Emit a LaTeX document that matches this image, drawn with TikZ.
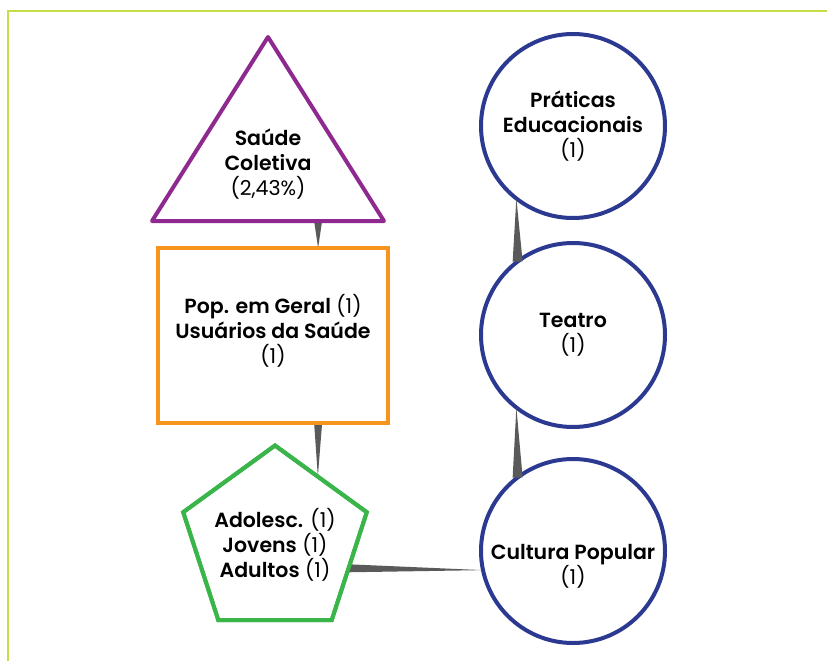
\documentclass[tikz,border=0pt]{standalone}
\usepackage{fontspec}
\setmainfont{Poppins}[BoldFont={Poppins SemiBold}]
\usetikzlibrary{shapes.geometric,calc}

\definecolor{framec}{HTML}{C6DD4A}
\definecolor{purplec}{HTML}{8E2A8F}
\definecolor{orangec}{HTML}{F7941D}
\definecolor{greenc}{HTML}{3AB54A}
\definecolor{navyc}{HTML}{2B3990}
\definecolor{linkc}{HTML}{5A5A5A}

% tapered connector: wide at #1, pointed at #2, half width #3
\newcommand\taper[3]{%
  \fill[linkc] ($(#1)!#3!90:(#2)$) -- ($(#1)!#3!-90:(#2)$) -- (#2) -- cycle;}

\begin{document}
\begin{tikzpicture}[x=1pt,y=-1pt,
  outline/.style={line width=4pt, inner sep=0pt, outer sep=0pt},
  lbl/.style={align=center, inner sep=0pt, font=\fontsize{20.5}{25}\selectfont},
  bubble/.style={outline, draw=navyc, circle, minimum size=184pt},
  boxstyle/.style={outline, draw=orangec, rectangle, minimum width=230pt, minimum height=175pt},
  pentstyle/.style={outline, draw=greenc, regular polygon, regular polygon sides=5, minimum size=193pt}]
\useasboundingbox (0,0) rectangle (827,661);

% frame
\draw[framec, line width=2.5pt] (827,11) -- (8,11) -- (8,661);

% shapes
\coordinate (tri-top) at (268,37);
\coordinate (tri-r) at (384,221);
\coordinate (tri-l) at (152,221);
\node[boxstyle] (pop) at (273,335.5) {};
\node[pentstyle] (ages) at (275,542) {};
\node[bubble] (prat) at (573,126) {};
\node[bubble] (teatro) at (573,335) {};
\node[bubble] (cultura) at (573,551) {};

% connector end points
\coordinate (tri-foot) at ($(tri-l)!0.716!(tri-r)$);
\coordinate (pop-top) at (tri-foot |- pop.north);
\coordinate (pop-foot) at (tri-foot |- pop.south);
\coordinate (ages-top) at ($(ages.corner 1)!0.467!(ages.corner 5)$);
\coordinate (ages-side) at ($(ages.corner 5)!0.52!(ages.corner 4)$);

\taper{tri-foot}{pop-top}{4pt}
\taper{pop-foot}{ages-top}{4pt}
\taper{ages-side}{cultura.192}{4pt}
\taper{teatro.127.5}{prat.232.5}{5pt}
\taper{cultura.127.5}{teatro.232.5}{5pt}

% outlines drawn over the connector ends
\draw[outline, draw=purplec, line join=round] (tri-top) -- (tri-r) -- (tri-l) -- cycle;
\node[boxstyle] at (pop) {};
\node[pentstyle] at (ages) {};

% labels
\node[lbl] (tri-lbl) at (268,164) {{\bfseries Saúde}\\{\bfseries Coletiva}\\(2,43\%)};
\node[lbl] (pop-lbl) at (273,331) {{\bfseries Pop. em Geral} (1)\\{\bfseries Usuários da Saúde}\\(1)};
\node[lbl] (ages-lbl) at (275,545) {{\bfseries Adolesc.} (1)\\{\bfseries Jovens} (1)\\{\bfseries Adultos} (1)};
\node[lbl] (prat-lbl) at (573,126) {{\bfseries Práticas}\\{\bfseries Educacionais}\\(1)};
\node[lbl] (teatro-lbl) at (573,335) {{\bfseries Teatro}\\(1)};
\node[lbl] (cultura-lbl) at (573,566) {{\bfseries Cultura Popular}\\(1)};
\end{tikzpicture}
\end{document}
